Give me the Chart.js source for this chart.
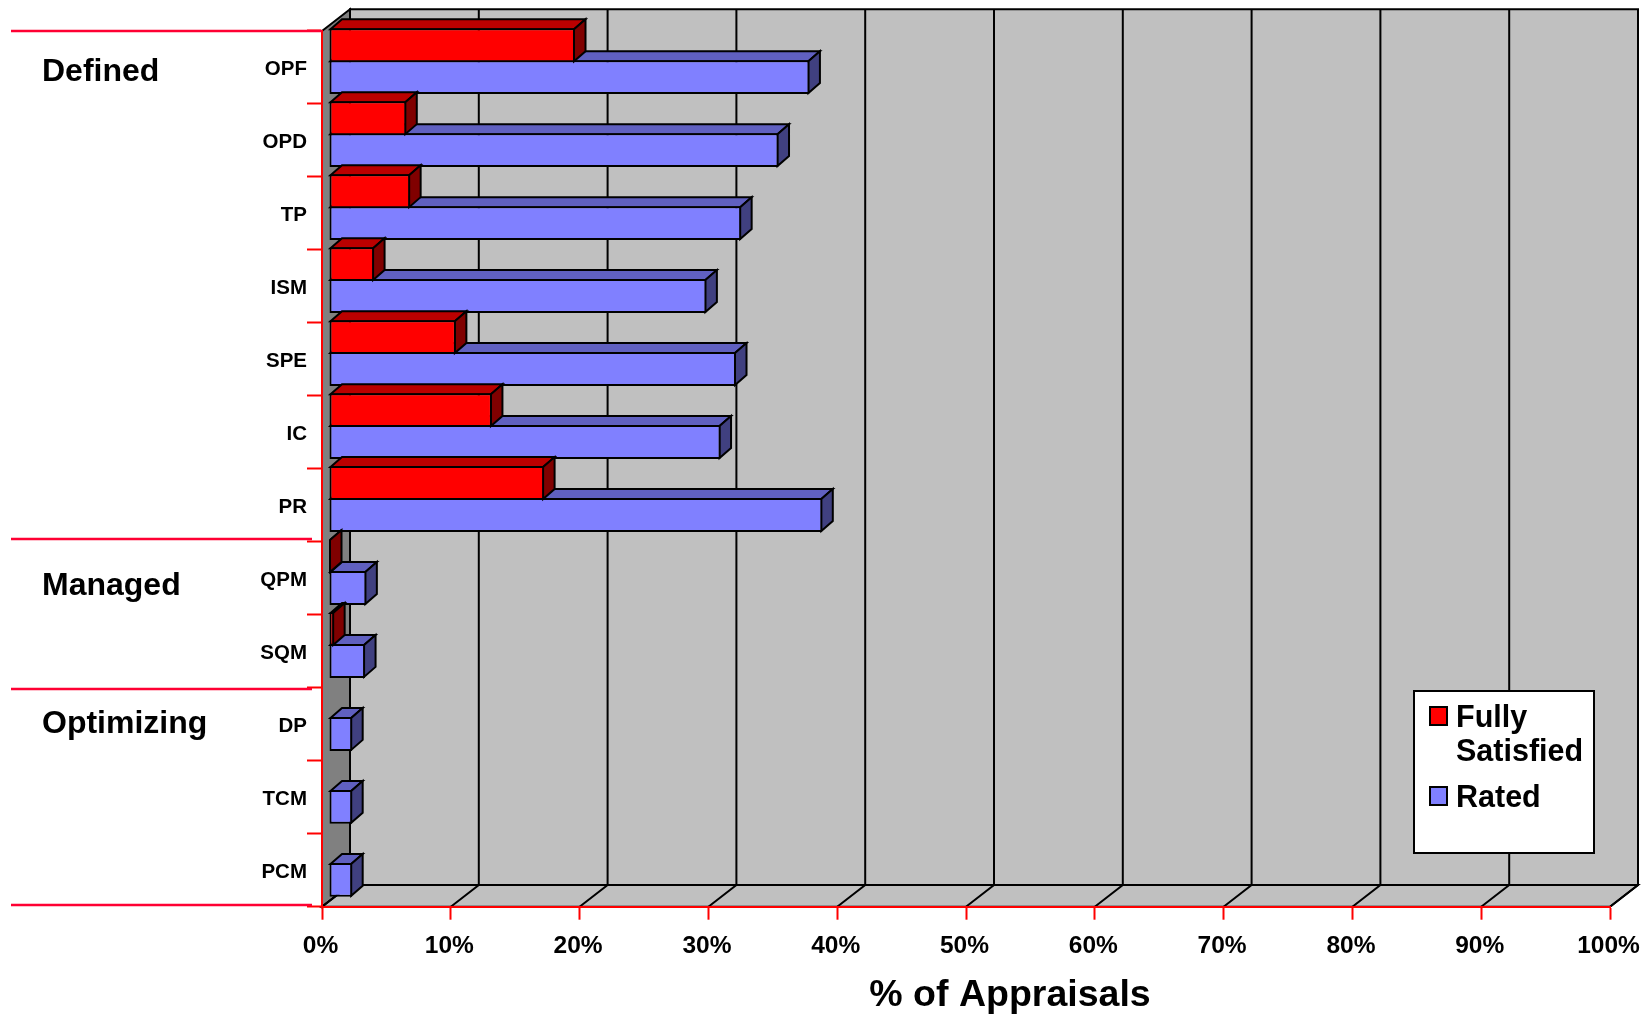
<!DOCTYPE html>
<html>
<head>
<meta charset="utf-8">
<title>% of Appraisals</title>
<script src="https://cdn.jsdelivr.net/npm/chart.js@4"></script>
<style>
  html, body { margin: 0; padding: 0; background: #fff; }
  canvas { display: block; }
</style>
</head>
<body>
<canvas id="myChart" width="1644" height="1015"></canvas>
<script>
var categories = ['OPF', 'OPD', 'TP', 'ISM', 'SPE', 'IC', 'PR', 'QPM', 'SQM', 'DP', 'TCM', 'PCM'];
var fullySatisfied = [19.1, 6.0, 6.3, 3.5, 9.85, 12.65, 16.7, 0, 0.4, null, null, null];
var rated = [37.3, 34.9, 32.0, 29.3, 31.6, 30.4, 38.3, 2.9, 2.8, 1.8, 1.8, 1.8];
var groupNames = ['Defined', 'Managed', 'Optimizing'];
var xTicks = [0, 10, 20, 30, 40, 50, 60, 70, 80, 90, 100];

var FONT = '"Liberation Sans", Arial, sans-serif';

// depth of the fake 3D box, and of the bars inside it
var wallDX = 28, wallDY = -21.7;
var barShiftX = 7, barShiftY = -6.3;
var barDX = 11.5, barDY = -10;

// faces: [top, side]
var faces = [
  {top: '#bb0000', side: '#800000'},
  {top: '#6060c0', side: '#404080'}
];

function poly(ctx, pts, fill) {
  ctx.beginPath();
  ctx.moveTo(pts[0][0], pts[0][1]);
  for (var i = 1; i < pts.length; i++) ctx.lineTo(pts[i][0], pts[i][1]);
  ctx.closePath();
  ctx.fillStyle = fill;
  ctx.fill();
  ctx.stroke();
}

var box3d = {
  id: 'box3d',
  // walls go under the axes
  beforeDraw: function(chart) {
    var ctx = chart.ctx, a = chart.chartArea, xs = chart.scales.x;
    ctx.save();
    ctx.strokeStyle = '#000';
    ctx.lineWidth = 2;
    poly(ctx, [[a.left + wallDX, a.top + wallDY], [a.right + wallDX, a.top + wallDY],
               [a.right + wallDX, a.bottom + wallDY], [a.left + wallDX, a.bottom + wallDY]], '#c0c0c0');
    poly(ctx, [[a.left, a.top], [a.left + wallDX, a.top + wallDY],
               [a.left + wallDX, a.bottom + wallDY], [a.left, a.bottom]], '#808080');
    poly(ctx, [[a.left, a.bottom], [a.right, a.bottom],
               [a.right + wallDX, a.bottom + wallDY], [a.left + wallDX, a.bottom + wallDY]], '#c0c0c0');
    xTicks.forEach(function(v) {
      var x = xs.getPixelForValue(v);
      ctx.beginPath();
      ctx.moveTo(x, a.bottom);
      ctx.lineTo(x + wallDX, a.bottom + wallDY);
      ctx.lineTo(x + wallDX, a.top + wallDY);
      ctx.stroke();
    });
    ctx.restore();
  },
  beforeDatasetDraw: function(chart, args) {
    var ctx = chart.ctx, f = faces[args.index], values = chart.data.datasets[args.index].data;
    ctx.save();
    ctx.translate(barShiftX, barShiftY);
    ctx.strokeStyle = '#000';
    ctx.lineWidth = 2;
    args.meta.data.forEach(function(el, i) {
      if (values[i] === null) return;
      // chart.js paints its border inside the bar, keep the edges on that line
      var t = el.y - el.height / 2 + 1, b = el.y + el.height / 2 - 1;
      var l = el.base + 1, r = Math.max(el.x - 1, l);
      poly(ctx, [[l, t], [l + barDX, t + barDY], [r + barDX, t + barDY], [r, t]], f.top);
      poly(ctx, [[r, t], [r + barDX, t + barDY], [r + barDX, b + barDY], [r, b]], f.side);
    });
  },
  afterDatasetDraw: function(chart) {
    chart.ctx.restore();
  },
  afterDraw: function(chart) {
    var ctx = chart.ctx;
    ctx.save();
    // process area groups on the left
    ctx.strokeStyle = '#ff0033';
    ctx.lineWidth = 2.5;
    [[31, 322], [539, 312], [689, 312], [905, 312]].forEach(function(l) {
      ctx.beginPath();
      ctx.moveTo(11, l[0]);
      ctx.lineTo(l[1], l[0]);
      ctx.stroke();
    });
    ctx.fillStyle = '#000';
    ctx.textAlign = 'left';
    ctx.textBaseline = 'alphabetic';
    ctx.font = 'bold 32px ' + FONT;
    var groupBase = [81, 595, 733];
    groupNames.forEach(function(g, i) { ctx.fillText(g, 42, groupBase[i]); });

    // axis title sits off centre, so no scale title here
    ctx.textAlign = 'center';
    ctx.font = 'bold 37.5px ' + FONT;
    ctx.fillText('% of Appraisals', 1010, 1006);

    // legend
    ctx.fillStyle = '#fff';
    ctx.strokeStyle = '#000';
    ctx.lineWidth = 2;
    ctx.fillRect(1414, 691, 180, 162);
    ctx.strokeRect(1414, 691, 180, 162);
    chart.data.datasets.forEach(function(ds, i) {
      var sy = i === 0 ? 707 : 787;
      ctx.fillStyle = ds.backgroundColor;
      ctx.fillRect(1430, sy, 17, 18);
      ctx.strokeRect(1430, sy, 17, 18);
    });
    ctx.fillStyle = '#000';
    ctx.textAlign = 'left';
    ctx.font = 'bold 30.5px ' + FONT;
    ctx.fillText('Fully', 1456, 727);
    ctx.fillText('Satisfied', 1456, 761);
    ctx.fillText('Rated', 1456, 807);
    ctx.restore();
  }
};

var ctx = document.getElementById('myChart').getContext('2d');
new Chart(ctx, {
  type: 'bar',
  data: {
    labels: categories,
    datasets: [
      {label: 'Fully Satisfied', data: fullySatisfied, backgroundColor: '#ff0000'},
      {label: 'Rated', data: rated, backgroundColor: '#8080ff'}
    ]
  },
  options: {
    indexAxis: 'y',
    responsive: false,
    animation: false,
    devicePixelRatio: 1,
    layout: {autoPadding: false, padding: {top: 31, right: 34, left: 0, bottom: 0}},
    datasets: {
      bar: {
        borderColor: '#000',
        borderWidth: 2,
        borderSkipped: false,
        categoryPercentage: 0.875,
        barPercentage: 1.0625,
        clip: false
      }
    },
    plugins: {legend: {display: false}, tooltip: {enabled: false}},
    scales: {
      x: {
        min: 0,
        max: 100,
        afterFit: function(scale) { scale.height = 108.3; },
        afterBuildTicks: function(scale) {
          scale.ticks = xTicks.map(function(v) { return {value: v}; });
        },
        border: {color: '#ff0000', width: 2},
        grid: {drawOnChartArea: false, tickColor: '#ff0000', tickWidth: 2, tickLength: 13},
        ticks: {
          color: '#000',
          autoSkip: false,
          maxRotation: 0,
          padding: 0, // ticks.padding eats into the right margin, tall lineHeight pushes labels down instead
          labelOffset: -1.5,
          font: {family: FONT, size: 24.5, weight: 'bold', lineHeight: 2.18},
          callback: function(v) { return v + '%'; }
        }
      },
      y: {
        afterFit: function(scale) { scale.width = 322; },
        border: {color: '#ff0000', width: 2},
        grid: {drawOnChartArea: false, tickColor: '#ff0000', tickWidth: 2, tickLength: 15},
        ticks: {
          color: '#000',
          padding: 0,
          labelOffset: 2,
          font: {family: FONT, size: 20.5, weight: 'bold'}
        }
      }
    }
  },
  plugins: [box3d]
});
</script>
</body>
</html>
